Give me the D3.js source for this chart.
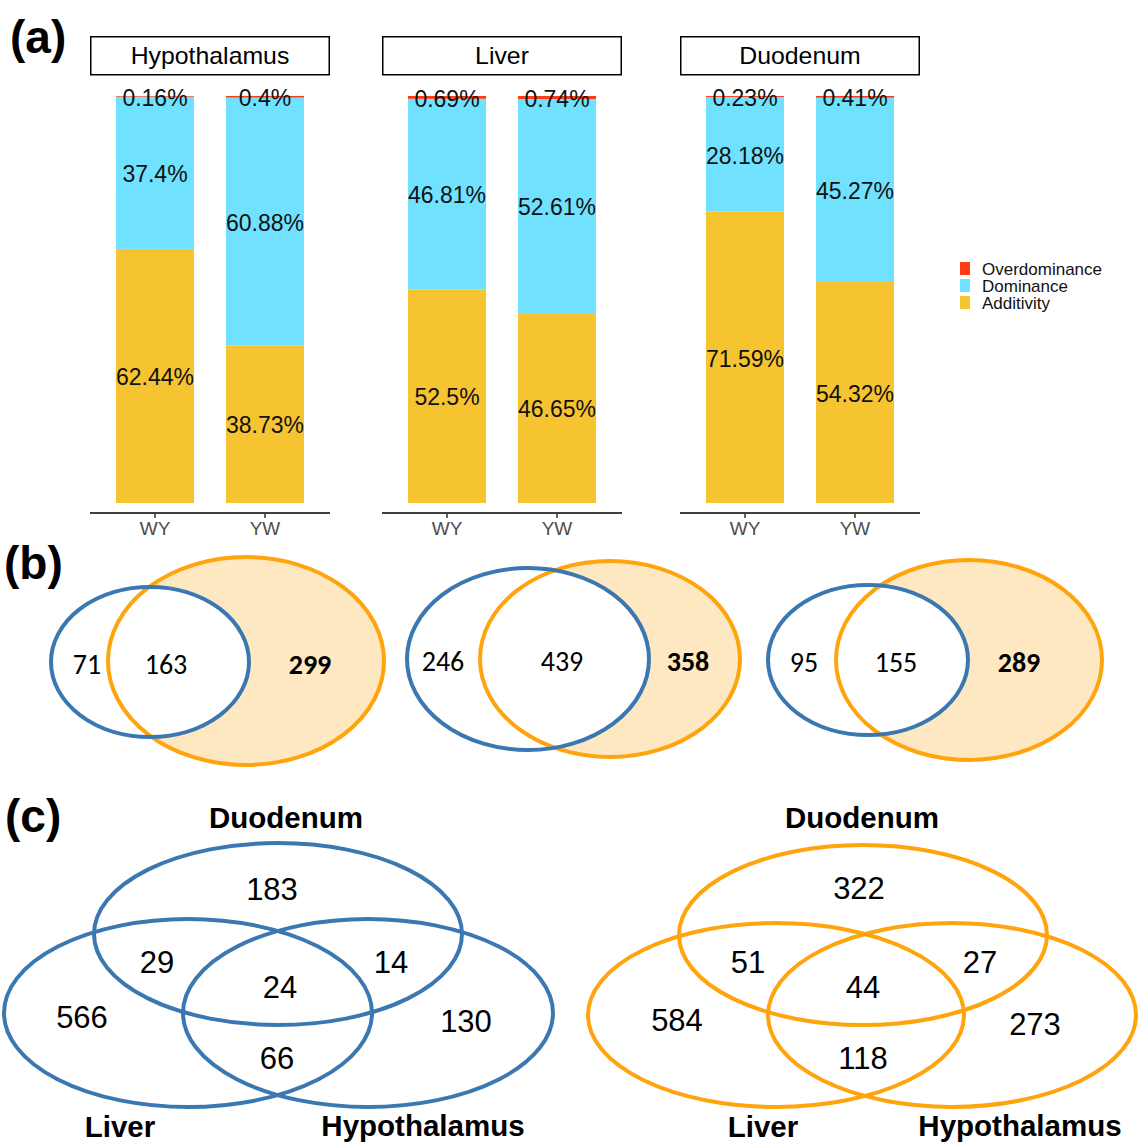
<!DOCTYPE html>
<html>
<head>
<meta charset="utf-8">
<script src="https://cdn.jsdelivr.net/npm/d3@7/dist/d3.min.js"></script>
<style>
  html, body { margin: 0; padding: 0; background: #fff; }
  svg { display: block; }
</style>
</head>
<body>
<svg id="fig" width="1138" height="1142"></svg>
<script>
// ---- (a) inheritance modes, percent of genes per tissue and cross ----
const tissues = ["Hypothalamus", "Liver", "Duodenum"];
const crosses = ["WY", "YW"];
const modes = ["Overdominance", "Dominance", "Additivity"];
const additivity    = [[62.44, 38.73], [52.5, 46.65], [71.59, 54.32]];
const dominance     = [[37.4, 60.88], [46.81, 52.61], [28.18, 45.27]];
const overdominance = [[0.16, 0.4], [0.69, 0.74], [0.23, 0.41]];

// ---- (b) two-set overlaps per tissue ----
const pairTissues = ["Hypothalamus", "Liver", "Duodenum"];
const pairOnlyA = [71, 246, 95];
const pairShared = [163, 439, 155];
const pairOnlyB = [299, 358, 289];

// ---- (c) three-tissue overlaps; region order:
// D only, D∩L, D∩H, D∩L∩H, L only, H only, L∩H
const vennSets = ["Duodenum", "Liver", "Hypothalamus"];
const vennBlue   = [183, 29, 14, 24, 566, 130, 66];
const vennOrange = [322, 51, 27, 44, 584, 273, 118];

const FONT = "'Liberation Sans', Arial, sans-serif";
const colors = { Overdominance: "#ff3b14", Dominance: "#70e1ff", Additivity: "#f6c331" };
const blue = "#3b78b2", orange = "#ffa40c", peach = "#fde8c2";

const svg = d3.select("#fig");

function panelTag(txt, x, y) {
  svg.append("text").attr("x", x).attr("y", y).text(txt)
    .attr("font-family", FONT).attr("font-weight", "bold").attr("font-size", 46)
    .attr("fill", "#000");
}

// ================= (a) =================
panelTag("(a)", 10, 53);

const facetX0 = [90, 382, 680];
const facetW = 240;
const y = d3.scaleLinear().domain([0, 100]).range([503, 96]);

tissues.forEach((t, i) => {
  const g = svg.append("g");
  const x = d3.scaleBand().domain(crosses)
    .range([facetX0[i], facetX0[i] + facetW])
    .paddingInner(0.29).paddingOuter(0.236);

  // strip
  g.append("rect").attr("x", facetX0[i] + 0.75).attr("y", 36.75)
    .attr("width", facetW - 1.5).attr("height", 38)
    .attr("fill", "#fff").attr("stroke", "#000").attr("stroke-width", 1.5);
  g.append("text")
    .attr("transform", `translate(${facetX0[i] + facetW / 2},56) scale(1.08,1)`)
    .attr("dy", "0.36em").attr("text-anchor", "middle")
    .attr("font-family", FONT).attr("font-size", 23).text(t);

  // stacked bars
  const rows = crosses.map((c, j) => ({
    cross: c,
    Additivity: additivity[i][j],
    Dominance: dominance[i][j],
    Overdominance: overdominance[i][j]
  }));
  const stack = d3.stack().keys(["Additivity", "Dominance", "Overdominance"]);
  const series = stack(rows);

  series.forEach(s => {
    g.selectAll(null).data(s).enter().append("rect")
      .attr("x", d => x(d.data.cross))
      .attr("width", x.bandwidth())
      .attr("y", d => y(d[1]))
      .attr("height", d => y(d[0]) - y(d[1]))
      .attr("fill", colors[s.key]);
  });
  series.forEach(s => {
    g.selectAll(null).data(s).enter().append("text")
      .attr("x", d => x(d.data.cross) + x.bandwidth() / 2)
      .attr("y", d => (y(d[0]) + y(d[1])) / 2 + 1)
      .attr("dy", "0.36em").attr("text-anchor", "middle")
      .attr("font-family", FONT).attr("font-size", 23).attr("fill", "#111")
      .text(d => d.data[s.key] + "%");
  });

  // x axis
  const ax = g.append("g").attr("transform", "translate(0,513)")
    .call(d3.axisBottom(x).tickSize(5).tickPadding(4).tickSizeOuter(0));
  ax.select(".domain").attr("stroke", "#000").attr("stroke-width", 1.5)
    .attr("d", `M${facetX0[i]},0H${facetX0[i] + facetW}`);
  ax.selectAll(".tick line").attr("stroke", "#333").attr("stroke-width", 1.5);
  ax.selectAll(".tick text").attr("font-family", FONT).attr("font-size", 19)
    .attr("fill", "#4d4d4d");
});

// legend
const leg = svg.append("g").attr("transform", "translate(960,262)");
modes.forEach((m, k) => {
  leg.append("rect").attr("x", 0).attr("y", k * 17).attr("width", 10).attr("height", 13)
    .attr("fill", colors[m]);
  leg.append("text").attr("x", 22).attr("y", k * 17 + 7).attr("dy", "0.36em")
    .attr("font-family", FONT).attr("font-size", 17).attr("fill", "#111").text(m);
});

// ================= (b) =================
panelTag("(b)", 4, 579);

const pairLayout = [
  { a: [150, 662, 99, 75], b: [246, 661, 138, 104], tx: [87, 166, 310] },
  { a: [528, 659, 121, 91], b: [610, 659, 130, 98], tx: [443, 562, 688] },
  { a: [868, 660, 100, 75], b: [969, 660, 133, 100], tx: [804, 896, 1019] }
];
const BFONT = "Carlito, Lato, 'Open Sans', sans-serif";
pairTissues.forEach((t, i) => {
  const L = pairLayout[i];
  const g = svg.append("g");
  g.append("ellipse").attr("cx", L.b[0]).attr("cy", L.b[1]).attr("rx", L.b[2]).attr("ry", L.b[3])
    .attr("fill", peach).attr("stroke", "none");
  g.append("ellipse").attr("cx", L.a[0]).attr("cy", L.a[1]).attr("rx", L.a[2]).attr("ry", L.a[3])
    .attr("fill", "#fff").attr("stroke", "none");
  g.append("ellipse").attr("cx", L.b[0]).attr("cy", L.b[1]).attr("rx", L.b[2]).attr("ry", L.b[3])
    .attr("fill", "none").attr("stroke", orange).attr("stroke-width", 4);
  g.append("ellipse").attr("cx", L.a[0]).attr("cy", L.a[1]).attr("rx", L.a[2]).attr("ry", L.a[3])
    .attr("fill", "none").attr("stroke", blue).attr("stroke-width", 4);
  const vals = [pairOnlyA[i], pairShared[i], pairOnlyB[i]];
  vals.forEach((v, k) => {
    g.append("text").attr("x", L.tx[k]).attr("y", L.a[1] + 2).attr("dy", "0.36em")
      .attr("text-anchor", "middle").attr("font-family", BFONT).attr("font-size", 28)
      .attr("font-weight", k === 2 ? "bold" : "normal").attr("fill", "#000").text(v);
  });
});

// ================= (c) =================
panelTag("(c)", 5, 832);

const tripleLayout = [
  {
    ell: [[278, 934, 184, 91], [188, 1013, 184, 94], [368, 1013, 185, 94]],
    names: [[286, 817], [120, 1126], [423, 1125]],
    nums: [[272, 889], [157, 962], [391, 962], [280, 987], [82, 1017], [466, 1021], [277, 1058]],
    color: blue
  },
  {
    ell: [[863, 935, 184, 90], [776, 1015, 188, 92], [952, 1015, 184, 92]],
    names: [[862, 817], [763, 1126], [1020, 1125]],
    nums: [[859, 888], [748, 962], [980, 962], [863, 987], [677, 1020], [1035, 1024], [863, 1058]],
    color: orange
  }
];
[vennBlue, vennOrange].forEach((counts, i) => {
  const L = tripleLayout[i];
  const g = svg.append("g");
  L.ell.forEach(e => {
    g.append("ellipse").attr("cx", e[0]).attr("cy", e[1]).attr("rx", e[2]).attr("ry", e[3])
      .attr("fill", "none").attr("stroke", L.color).attr("stroke-width", 4);
  });
  vennSets.forEach((s, k) => {
    g.append("text").attr("x", L.names[k][0]).attr("y", L.names[k][1]).attr("dy", "0.36em")
      .attr("text-anchor", "middle").attr("font-family", FONT).attr("font-weight", "bold")
      .attr("font-size", 29.5).attr("fill", "#000").text(s);
  });
  counts.forEach((c, k) => {
    g.append("text").attr("x", L.nums[k][0]).attr("y", L.nums[k][1]).attr("dy", "0.36em")
      .attr("text-anchor", "middle").attr("font-family", FONT)
      .attr("font-size", 31).attr("fill", "#000").text(c);
  });
});
</script>
</body>
</html>
